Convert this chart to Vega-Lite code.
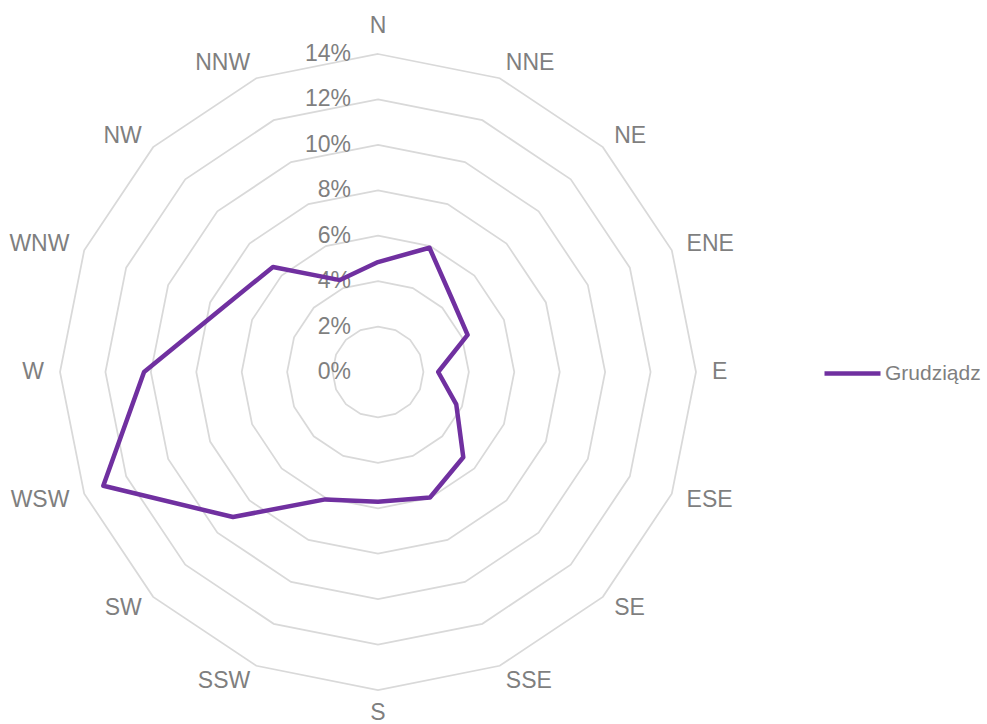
{
  "$schema": "https://vega.github.io/schema/vega-lite/v6.json",
  "width": 987,
  "height": 724,
  "padding": 0,
  "autosize": {"type": "none"},
  "background": "white",
  "config": {"view": {"stroke": null}, "text": {"font": "Liberation Sans", "fontSize": 23, "color": "#7f7f7f"}},
  "datasets": {
    "wind": [
      {"dir": "N", "i": 0, "pct": 4.84, "station": "Grudziądz"},
      {"dir": "NNE", "i": 1, "pct": 5.92, "station": "Grudziądz"},
      {"dir": "NE", "i": 2, "pct": 4.59, "station": "Grudziądz"},
      {"dir": "ENE", "i": 3, "pct": 4.27, "station": "Grudziądz"},
      {"dir": "E", "i": 4, "pct": 2.65, "station": "Grudziądz"},
      {"dir": "ESE", "i": 5, "pct": 3.73, "station": "Grudziądz"},
      {"dir": "SE", "i": 6, "pct": 5.31, "station": "Grudziądz"},
      {"dir": "SSE", "i": 7, "pct": 5.98, "station": "Grudziądz"},
      {"dir": "S", "i": 8, "pct": 5.71, "station": "Grudziądz"},
      {"dir": "SSW", "i": 9, "pct": 6.07, "station": "Grudziądz"},
      {"dir": "SW", "i": 10, "pct": 9.03, "station": "Grudziądz"},
      {"dir": "WSW", "i": 11, "pct": 13.09, "station": "Grudziądz"},
      {"dir": "W", "i": 12, "pct": 10.3, "station": "Grudziądz"},
      {"dir": "WNW", "i": 13, "pct": 7.4, "station": "Grudziądz"},
      {"dir": "NW", "i": 14, "pct": 6.54, "station": "Grudziądz"},
      {"dir": "NNW", "i": 15, "pct": 4.38, "station": "Grudziądz"}
    ],
    "levels": [
      {"level": 0, "i": [0,1,2,3,4,5,6,7,8,9,10,11,12,13,14,15]},
      {"level": 2, "i": [0,1,2,3,4,5,6,7,8,9,10,11,12,13,14,15]},
      {"level": 4, "i": [0,1,2,3,4,5,6,7,8,9,10,11,12,13,14,15]},
      {"level": 6, "i": [0,1,2,3,4,5,6,7,8,9,10,11,12,13,14,15]},
      {"level": 8, "i": [0,1,2,3,4,5,6,7,8,9,10,11,12,13,14,15]},
      {"level": 10, "i": [0,1,2,3,4,5,6,7,8,9,10,11,12,13,14,15]},
      {"level": 12, "i": [0,1,2,3,4,5,6,7,8,9,10,11,12,13,14,15]},
      {"level": 14, "i": [0,1,2,3,4,5,6,7,8,9,10,11,12,13,14,15]}
    ]
  },
  "encoding": {
    "x": {"field": "x", "type": "quantitative", "scale": {"domain": [-378, 609], "nice": false, "zero": false}, "axis": null},
    "y": {"field": "y", "type": "quantitative", "scale": {"domain": [-352, 372], "nice": false, "zero": false}, "axis": null}
  },
  "layer": [
    {
      "data": {"name": "levels"},
      "transform": [
        {"filter": "datum.level > 0"},
        {"flatten": ["i"]},
        {"calculate": "datum.level * 318 / 14", "as": "r"},
        {"calculate": "datum.r * sin(datum.i * PI / 8)", "as": "x"},
        {"calculate": "datum.r * cos(datum.i * PI / 8)", "as": "y"}
      ],
      "mark": {"type": "line", "interpolate": "linear-closed", "stroke": "#d9d9d9", "strokeWidth": 1.75},
      "encoding": {"detail": {"field": "level"}, "order": {"field": "i", "type": "quantitative"}}
    },
    {
      "data": {"name": "levels"},
      "transform": [
        {"calculate": "datum.level * 318 / 14", "as": "y"},
        {"calculate": "0", "as": "x"},
        {"calculate": "datum.level + '%'", "as": "lbl"}
      ],
      "mark": {"type": "text", "align": "right", "baseline": "middle", "dx": -27},
      "encoding": {"text": {"field": "lbl"}}
    },
    {
      "data": {"name": "wind"},
      "transform": [
        {"calculate": "datum.pct * 318 / 14", "as": "r"},
        {"calculate": "datum.r * sin(datum.i * PI / 8)", "as": "x"},
        {"calculate": "datum.r * cos(datum.i * PI / 8)", "as": "y"}
      ],
      "mark": {"type": "line", "interpolate": "linear-closed", "strokeWidth": 4.5, "strokeJoin": "round"},
      "encoding": {
        "order": {"field": "i", "type": "quantitative"},
        "color": {
          "field": "station", "type": "nominal",
          "scale": {"range": ["#7030A0"]},
          "legend": {
            "title": null, "orient": "none", "legendX": 822, "legendY": 343,
            "symbolType": "stroke", "symbolSize": 3136, "symbolStrokeWidth": 4.5,
            "labelFontSize": 21, "labelColor": "#7f7f7f", "labelFont": "Liberation Sans",
            "labelOffset": 2, "padding": 0
          }
        }
      }
    },
    {
      "data": {"name": "wind"},
      "transform": [
        {"filter": "datum.i >= 1 && datum.i <= 7"},
        {"calculate": "334 * sin(datum.i * PI / 8)", "as": "x"},
        {"calculate": "334 * cos(datum.i * PI / 8)", "as": "y"}
      ],
      "mark": {"type": "text", "align": "left", "baseline": "middle"},
      "encoding": {"text": {"field": "dir"}}
    },
    {
      "data": {"name": "wind"},
      "transform": [
        {"filter": "datum.i >= 9"},
        {"calculate": "334 * sin(datum.i * PI / 8)", "as": "x"},
        {"calculate": "334 * cos(datum.i * PI / 8)", "as": "y"}
      ],
      "mark": {"type": "text", "align": "right", "baseline": "middle"},
      "encoding": {"text": {"field": "dir"}}
    },
    {
      "data": {"name": "wind"},
      "transform": [
        {"filter": "datum.i == 0"},
        {"calculate": "0", "as": "x"},
        {"calculate": "338.7", "as": "y"}
      ],
      "mark": {"type": "text", "align": "center", "baseline": "alphabetic"},
      "encoding": {"text": {"field": "dir"}}
    },
    {
      "data": {"name": "wind"},
      "transform": [
        {"filter": "datum.i == 8"},
        {"calculate": "0", "as": "x"},
        {"calculate": "-348", "as": "y"}
      ],
      "mark": {"type": "text", "align": "center", "baseline": "alphabetic"},
      "encoding": {"text": {"field": "dir"}}
    }
  ]
}
